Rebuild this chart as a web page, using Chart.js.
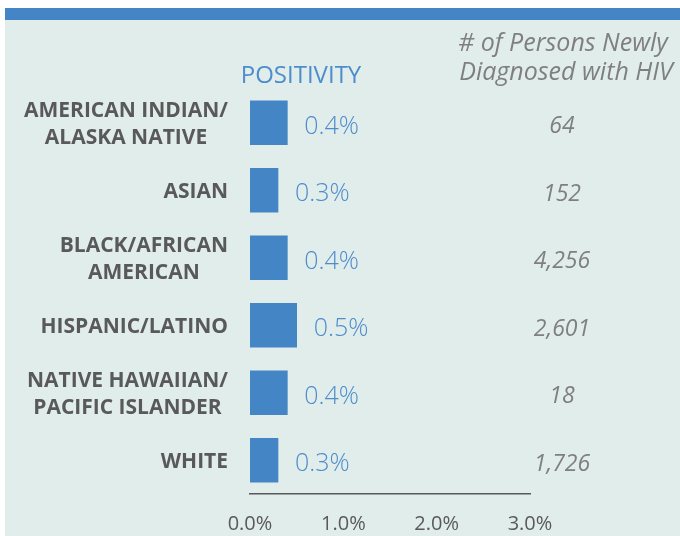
<!DOCTYPE html>
<html>
<head>
<meta charset="utf-8">
<script src="https://cdn.jsdelivr.net/npm/chart.js@4.4.0/dist/chart.umd.min.js"></script>
<style>
html,body{margin:0;padding:0;background:#ffffff;}
#c{display:block;}
</style>
</head>
<body>
<canvas id="c" width="680" height="536"></canvas>
<script>
const categories = [
  ['AMERICAN INDIAN/', 'ALASKA NATIVE'],
  ['ASIAN'],
  ['BLACK/AFRICAN', 'AMERICAN'],
  ['HISPANIC/LATINO'],
  ['NATIVE HAWAIIAN/', 'PACIFIC ISLANDER'],
  ['WHITE']
];
const positivity = [0.4, 0.3, 0.4, 0.5, 0.4, 0.3];
const newlyDiagnosed = ['64', '152', '4,256', '2,601', '18', '1,726'];
const xTicks = [0, 1, 2, 3];
const headerLeft = 'POSITIVITY';
const headerRight = ['# of Persons Newly', 'Diagnosed with HIV'];

const BLUE = '#4485c5';
const LABEL_BLUE = '#4d8dcc';
const DARK = '#595959';
const GREY = '#7f7f7f';
const FONT = '"Open Sans", "Noto Sans", sans-serif';

const decor = {
  id: 'decor',
  beforeDraw(chart) {
    const ctx = chart.ctx;
    ctx.save();
    ctx.fillStyle = '#ffffff';
    ctx.fillRect(0, 0, chart.width, chart.height);
    ctx.fillStyle = '#e1edeb';
    ctx.fillRect(5, 8, chart.width - 5, chart.height - 8);
    ctx.fillStyle = BLUE;
    ctx.fillRect(5, 8, chart.width - 5, 12);
    ctx.restore();
  },
  afterDatasetsDraw(chart) {
    const ctx = chart.ctx;
    const y = chart.scales.y;
    const meta = chart.getDatasetMeta(0);
    ctx.save();
    // headers
    ctx.textAlign = 'center';
    ctx.textBaseline = 'middle';
    ctx.fillStyle = LABEL_BLUE;
    ctx.font = '24px ' + FONT;
    ctx.fillText(headerLeft, 301, 76);
    ctx.fillStyle = GREY;
    ctx.font = 'italic 25px ' + FONT;
    ctx.fillText(headerRight[0], 563, 44);
    ctx.fillText(headerRight[1], 566, 73);

    categories.forEach((lines, i) => {
      const cy = y.getPixelForValue(i);
      // category labels
      ctx.font = 'bold 21px ' + FONT;
      ctx.fillStyle = DARK;
      let maxW = 0;
      lines.forEach(l => { maxW = Math.max(maxW, ctx.measureText(l).width); });
      const cx = 228 - maxW / 2;
      const lh = 27;
      const startY = cy + 2 - (lines.length - 1) * lh / 2;
      ctx.textAlign = 'center';
      lines.forEach((l, k) => ctx.fillText(l, cx, startY + k * lh));
      // value labels
      const bar = meta.data[i];
      ctx.textAlign = 'left';
      ctx.fillStyle = LABEL_BLUE;
      ctx.font = '300 25px ' + FONT;
      ctx.fillText(positivity[i].toFixed(1) + '%', bar.x + 17, cy + 4);
      // counts
      ctx.textAlign = 'center';
      ctx.fillStyle = GREY;
      ctx.font = 'italic 23px ' + FONT;
      ctx.fillText(newlyDiagnosed[i], 562, cy + 4);
    });
    ctx.restore();
  }
};

new Chart(document.getElementById('c'), {
  type: 'bar',
  data: {
    labels: categories,
    datasets: [{
      data: positivity,
      backgroundColor: BLUE,
      borderWidth: 0,
      barThickness: 44
    }]
  },
  options: {
    indexAxis: 'y',
    responsive: false,
    animation: false,
    layout: { padding: { left: 250, right: 150, top: 89, bottom: 0 } },
    plugins: { legend: { display: false }, tooltip: { enabled: false } },
    scales: {
      y: { display: false },
      x: {
        min: 0, max: 3,
        afterBuildTicks(scale) { scale.ticks = xTicks.map(v => ({ value: v })); },
        afterFit(scale) { scale.height = 42; },
        grid: { display: false, drawTicks: false },
        border: { display: true, color: DARK, width: 1.5 },
        ticks: {
          padding: 18,
          color: DARK,
          font: { family: FONT, size: 20 },
          callback: v => Number(v).toFixed(1) + '%'
        }
      }
    }
  },
  plugins: [decor]
});
</script>
</body>
</html>
